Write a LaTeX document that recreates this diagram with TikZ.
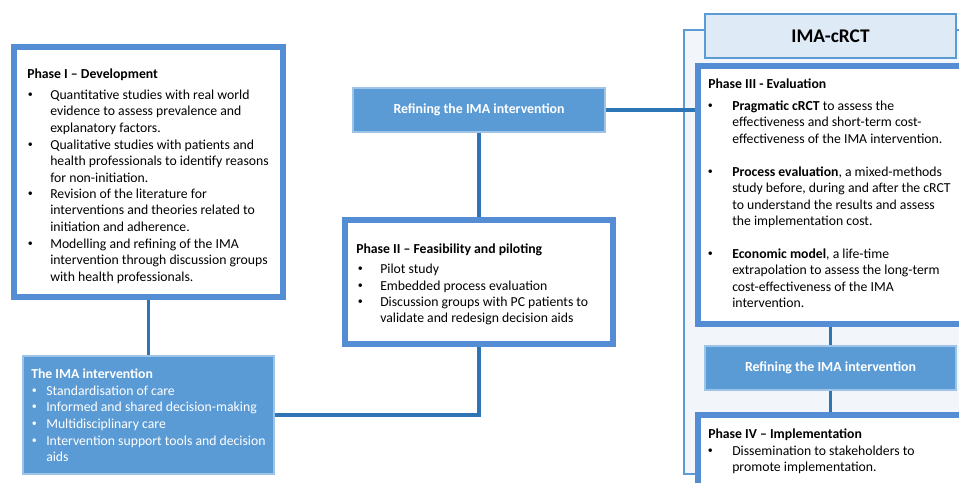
\documentclass[tikz,border=0pt]{standalone}
\usepackage{fontspec}
\setmainfont{Carlito}
\usetikzlibrary{fit}
\definecolor{bandblue}{RGB}{84,141,212}
\definecolor{connblue}{RGB}{46,117,182}
\definecolor{fillblue}{RGB}{91,155,213}
\definecolor{lightedge}{RGB}{157,195,230}
\definecolor{paleblue}{RGB}{242,246,251}
\definecolor{headblue}{RGB}{222,235,247}
\newcommand\ML[1]{\vtop{\halign{##\hfil\cr#1\crcr}}}
\newcommand\SB{\raisebox{0.9pt}{\fontsize{7.5}{8}\selectfont •}}
\begin{document}
\begin{tikzpicture}[x=0.75pt,y=-0.75pt,
  band/.style={draw=bandblue,line width=4.5pt,fill=white,inner sep=0pt},
  solidbox/.style={draw=lightedge,line width=0.8pt,fill=fillblue,inner sep=0pt},
  conn/.style={draw=connblue,line width=2.3pt},
  txt/.style={inner sep=0pt,anchor=base west,font=\fontsize{10.3}{12.4}\selectfont},
  wtxt/.style={txt,text=white},
  ttl/.style={txt,font=\fontsize{10.3}{12.4}\selectfont\bfseries},
  wttl/.style={ttl,text=white},
  reftxt/.style={inner sep=0pt,text=white,font=\fontsize{10.4}{12.4}\selectfont\bfseries}]
\useasboundingbox (0,0) rectangle (959,482);
\clip (0,0) rectangle (959,482);
% container
\node[fit={(684,30) (990,474)},inner sep=0pt,draw=fillblue,line width=0.8pt,fill=paleblue] (cont) {};
\node[fit={(705,14) (956,58)},inner sep=0pt,draw=fillblue,line width=1pt,fill=headblue] (head) {};
\node[inner sep=0pt,font=\fontsize{14.5}{17}\selectfont\bfseries] (headtxt) at (head.center) {IMA-cRCT};
% boxes (geometry)
\node[fit={(14,47) (283,297)},band] (p1) {};
\node[fit={(345,220) (613,344)},band] (p2) {};
\node[fit={(698,66) (990,324)},band] (p3) {};
\node[fit={(698,415) (990,500)},band] (p4) {};
\node[fit={(23,356) (274,474)},solidbox] (ima) {};
\node[fit={(353,88) (605,132)},solidbox] (ref1) {};
\node[fit={(705,346) (956,390)},solidbox] (ref2) {};
% connectors
\draw[conn] (p1.south) -- (ima.north);
\draw[conn] (ima.east) -| (p2.south);
\draw[conn] (p2.north) -- (ref1.south);
\draw[conn] (ref1.east) -- (ref1.east -| p3.west);
\draw[conn] (ref2.north |- p3.south) -- (ref2.north);
\draw[conn] (ref2.south) -- (ref2.south |- p4.north);
% redraw boxes on top of connectors
\node[fit={(14,47) (283,297)},band] (p1b) {};
\node[fit={(345,220) (613,344)},band] (p2b) {};
\node[fit={(698,66) (990,324)},band] (p3b) {};
\node[fit={(698,415) (990,500)},band] (p4b) {};
\node[fit={(23,356) (274,474)},solidbox] (imab) {};
\node[fit={(353,88) (605,132)},solidbox] (ref1b) {};
\node[fit={(705,346) (956,390)},solidbox] (ref2b) {};
% refining labels
\node[reftxt] (ref1t) at (ref1.center) {Refining the IMA intervention};
\node[reftxt] (ref2t) at (ref2.center) {Refining the IMA intervention};
% Phase I
\node[ttl] (p1t) at (27,78) {Phase I – Development};
\node[txt] (p1b1) at (27.5,99) {\SB};
\node[txt] (p1i1) at (50,99) {\ML{Quantitative studies with real world\cr evidence to assess prevalence and\cr explanatory factors.}};
\node[txt] (p1b2) at (27.5,149) {\SB};
\node[txt] (p1i2) at (50,149) {\ML{Qualitative studies with patients and\cr health professionals to identify reasons\cr for non-initiation.}};
\node[txt] (p1b3) at (27.5,198) {\SB};
\node[txt] (p1i3) at (50,198) {\ML{Revision of the literature for\cr interventions and theories related to\cr initiation and adherence.}};
\node[txt] (p1b4) at (27.5,248) {\SB};
\node[txt] (p1i4) at (50,248) {\ML{Modelling and refining of the IMA\cr intervention through discussion groups\cr with health professionals.}};
% IMA intervention
\node[wttl] (imat) at (31,378) {The IMA intervention};
\node[wtxt] (imab1) at (31.5,395) {\SB};
\node[wtxt] (imai1) at (46,395) {Standardisation of care};
\node[wtxt] (imab2) at (31.5,411) {\SB};
\node[wtxt] (imai2) at (46,411) {Informed and shared decision-making};
\node[wtxt] (imab3) at (31.5,428) {\SB};
\node[wtxt] (imai3) at (46,428) {Multidisciplinary care};
\node[wtxt] (imab4) at (31.5,445) {\SB};
\node[wtxt] (imai4) at (46,445) {\ML{Intervention support tools and decision\cr aids}};
% Phase II
\node[ttl] (p2t) at (356,253) {Phase II – Feasibility and piloting};
\node[txt] (p2b1) at (357.5,273) {\SB};
\node[txt] (p2i1) at (380,273) {Pilot study};
\node[txt] (p2b2) at (357.5,290) {\SB};
\node[txt] (p2i2) at (380,290) {Embedded process evaluation};
\node[txt] (p2b3) at (357.5,306) {\SB};
\node[txt] (p2i3) at (380,306) {\ML{Discussion groups with PC patients to\cr validate and redesign decision aids}};
% Phase III
\node[ttl] (p3t) at (708,88) {Phase III - Evaluation};
\node[txt] (p3b1) at (707.5,110) {\SB};
\node[txt] (p3i1) at (732,110) {\ML{\textbf{Pragmatic cRCT} to assess the\cr effectiveness and short-term cost-\cr effectiveness of the IMA intervention.}};
\node[txt] (p3b2) at (707.5,176) {\SB};
\node[txt] (p3i2) at (732,176) {\ML{\textbf{Process evaluation}, a mixed-methods\cr study before, during and after the cRCT\cr to understand the results and assess\cr the implementation cost.}};
\node[txt] (p3b3) at (707.5,258) {\SB};
\node[txt] (p3i3) at (732,258) {\ML{\textbf{Economic model}, a life-time\cr extrapolation to assess the long-term\cr cost-effectiveness of the IMA\cr intervention.}};
% Phase IV
\node[ttl] (p4t) at (708,438) {Phase IV – Implementation};
\node[txt] (p4b1) at (707.5,455) {\SB};
\node[txt] (p4i1) at (732,455) {\ML{Dissemination to stakeholders to\cr promote implementation.}};
\end{tikzpicture}
\end{document}
